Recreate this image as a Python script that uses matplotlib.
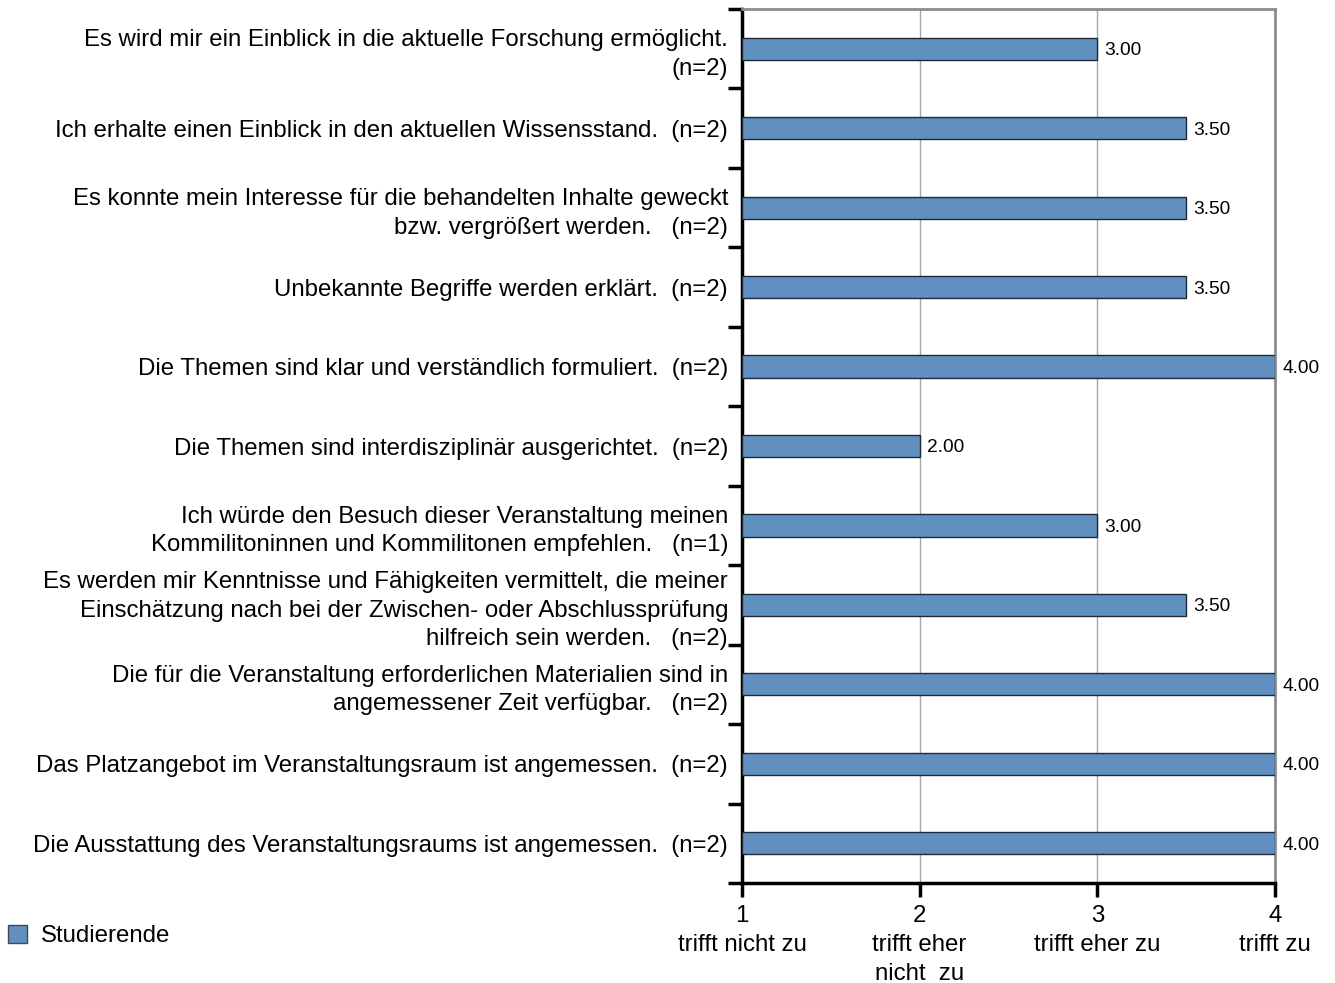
import numpy as np
from matplotlib import pyplot as plt
from matplotlib.patches import Patch

plt.rcParams['font.family'] = ['Liberation Sans', 'DejaVu Sans']

# questions, top to bottom
labels = [
    "Es wird mir ein Einblick in die aktuelle Forschung ermöglicht.\n(n=2)",
    "Ich erhalte einen Einblick in den aktuellen Wissensstand.  (n=2)",
    "Es konnte mein Interesse für die behandelten Inhalte geweckt\nbzw. vergrößert werden.   (n=2)",
    "Unbekannte Begriffe werden erklärt.  (n=2)",
    "Die Themen sind klar und verständlich formuliert.  (n=2)",
    "Die Themen sind interdisziplinär ausgerichtet.  (n=2)",
    "Ich würde den Besuch dieser Veranstaltung meinen\nKommilitoninnen und Kommilitonen empfehlen.   (n=1)",
    "Es werden mir Kenntnisse und Fähigkeiten vermittelt, die meiner\nEinschätzung nach bei der Zwischen- oder Abschlussprüfung\nhilfreich sein werden.   (n=2)",
    "Die für die Veranstaltung erforderlichen Materialien sind in\nangemessener Zeit verfügbar.   (n=2)",
    "Das Platzangebot im Veranstaltungsraum ist angemessen.  (n=2)",
    "Die Ausstattung des Veranstaltungsraums ist angemessen.  (n=2)",
]
values = [3.0, 3.5, 3.5, 3.5, 4.0, 2.0, 3.0, 3.5, 4.0, 4.0, 4.0]

scale_ticks = [1, 2, 3, 4]
scale_labels = ["1\ntrifft nicht zu", "2\ntrifft eher\nnicht  zu", "3\ntrifft eher zu", "4\ntrifft zu"]
series_name = "Studierende"

bar_color = '#6190c0'

fig = plt.figure(figsize=(13.35, 9.83), dpi=100)
ax = fig.add_axes([742/1335, 1 - 883/983, (1275 - 742)/1335, (883 - 9)/983])

n = len(values)
y = np.arange(n)
ax.barh(y, np.array(values) - 1, left=1, height=0.28, color=bar_color,
        edgecolor='#1c2a3a', linewidth=1, zorder=3)
for yi, v in zip(y, values):
    ax.text(v + 0.04, yi, f"{v:.2f}", va='center_baseline', ha='left', fontsize=13.8, zorder=4)

ax.set_xlim(1, 4)
ax.set_ylim(n - 0.5, -0.5)

# vertical grid
for xv in [2, 3, 4]:
    ax.axvline(xv, color='#a6a6a6', linewidth=1, zorder=1)

ax.set_xticks(scale_ticks)
ax.set_xticklabels(scale_labels, fontsize=17.3, linespacing=1.4)
ax.tick_params(axis='x', direction='out', length=10, width=2.5, pad=6)

ax.set_yticks(y)
ax.set_yticklabels(labels, fontsize=17.3, linespacing=1.38)
ax.tick_params(axis='y', which='major', length=0, pad=10)
ax.set_yticks(np.arange(n + 1) - 0.5, minor=True)
ax.tick_params(axis='y', which='minor', direction='out', length=10, width=2.5)

for s in ['left', 'bottom']:
    ax.spines[s].set_color('black')
    ax.spines[s].set_linewidth(2.5)
for s in ['top', 'right']:
    ax.spines[s].set_color('#8c8c8c')
    ax.spines[s].set_linewidth(2)

fig.legend(handles=[Patch(facecolor=bar_color, edgecolor='#3a4a5a', label=series_name)],
           loc='center left', bbox_to_anchor=(8/1335, 1 - 936/983), frameon=False,
           fontsize=17.3, handlelength=0.8, handleheight=0.8, handletextpad=0.55,
           borderpad=0, borderaxespad=0)

plt.savefig('out.png', dpi=100)
